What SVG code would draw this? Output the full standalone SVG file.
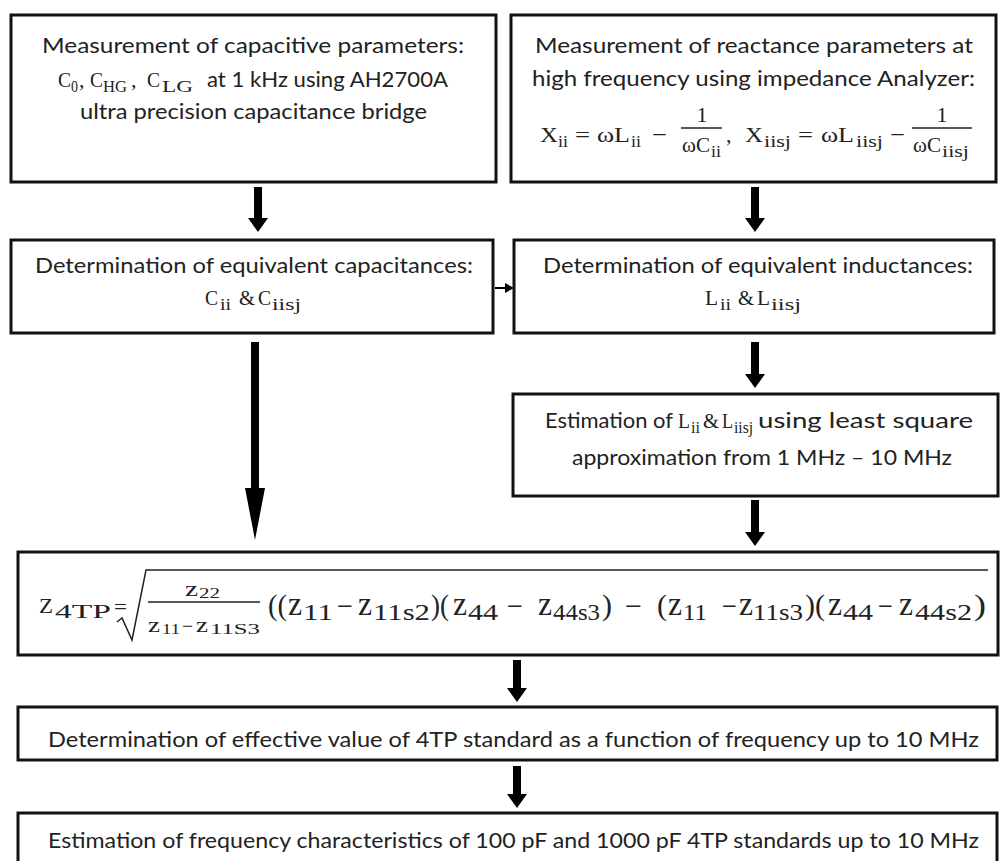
<svg xmlns="http://www.w3.org/2000/svg" width="1000" height="861" viewBox="0 0 1000 861">
<style>
.box{fill:#fff;stroke:#111;stroke-width:3}
.t{font-family:Lato,"Liberation Sans",sans-serif;font-size:22px;fill:#222}
.m{font-family:"Liberation Serif","DejaVu Serif",serif;font-size:22px;fill:#222}
.s{font-family:"Liberation Serif","DejaVu Serif",serif;font-size:16px;fill:#222}
.P{font-family:"Liberation Serif","DejaVu Serif",serif;font-size:30px;fill:#222}
.Z{font-family:"Liberation Serif","DejaVu Serif",serif;font-size:34px;fill:#222}
.S{font-family:"Liberation Serif","DejaVu Serif",serif;font-size:23px;fill:#222}
.c{text-anchor:middle}
.arrow{fill:#000}
.rule{stroke:#222;stroke-width:1.5;fill:none}
</style>
<rect width="1000" height="861" fill="#fff"/>

<g id="connectors">
<polygon class="arrow" points="254,187 262,187 262,218 268,218 258,232 248,218 254,218"/>
<polygon class="arrow" points="751,187 759,187 759,218 765,218 755,232 745,218 751,218"/>
<line x1="495" y1="288" x2="507" y2="288" stroke="#000" stroke-width="2"/>
<polygon class="arrow" points="505,283 514,288 505,293"/>
<polygon class="arrow" points="751,342 759,342 759,374 765,374 755,388 745,374 751,374"/>
<polygon class="arrow" points="251,342 259,342 259,488 265,488 255,540 245,488 251,488"/>
<polygon class="arrow" points="751,500 759,500 759,532 765,532 755,546 745,532 751,532"/>
<polygon class="arrow" points="513,660 521,660 521,688 527,688 517,702 507,688 513,688"/>
<polygon class="arrow" points="513,766 521,766 521,794 527,794 517,808 507,794 513,794"/>
</g>

<g id="node-cap-measure">
<rect class="box" x="11" y="15" width="485" height="167"/>
<text class="t" x="42" y="53" textLength="422" lengthAdjust="spacingAndGlyphs">Measurement of capacitive parameters:</text>
<text class="m" x="58" y="87" textLength="13" lengthAdjust="spacingAndGlyphs">C</text>
<text class="s" x="71" y="92" textLength="7" lengthAdjust="spacingAndGlyphs">0</text>
<text class="m" x="79" y="87">,</text>
<text class="m" x="90" y="87" textLength="13" lengthAdjust="spacingAndGlyphs">C</text>
<text class="s" x="103" y="92" textLength="24" lengthAdjust="spacingAndGlyphs">HG</text>
<text class="m" x="131" y="87">,</text>
<text class="m" x="147" y="87" textLength="13" lengthAdjust="spacingAndGlyphs">C</text>
<text class="s" x="162" y="92" textLength="31" lengthAdjust="spacingAndGlyphs">LG</text>
<text class="t" x="207" y="87" textLength="241" lengthAdjust="spacingAndGlyphs">at 1 kHz using AH2700A</text>
<text class="t" x="80" y="119" textLength="347" lengthAdjust="spacingAndGlyphs">ultra precision capacitance bridge</text>
</g>

<g id="node-reactance">
<rect class="box" x="511" y="15" width="485" height="167"/>
<text class="t" x="535" y="53" textLength="438" lengthAdjust="spacingAndGlyphs">Measurement of reactance parameters at</text>
<text class="t" x="532" y="86" textLength="443" lengthAdjust="spacingAndGlyphs">high frequency using impedance Analyzer:</text>
<text class="m" x="540" y="142" textLength="18" lengthAdjust="spacingAndGlyphs">X</text>
<text class="s" x="558" y="147" textLength="10" lengthAdjust="spacingAndGlyphs">ii</text>
<text class="m" x="575" y="142" textLength="15" lengthAdjust="spacingAndGlyphs">=</text>
<text class="m" x="597" y="142" textLength="33" lengthAdjust="spacingAndGlyphs">ωL</text>
<text class="s" x="631" y="147" textLength="10" lengthAdjust="spacingAndGlyphs">ii</text>
<text class="m" x="652" y="142" textLength="15" lengthAdjust="spacingAndGlyphs">−</text>
<text class="m c" x="702" y="122">1</text>
<line class="rule" x1="681" y1="128" x2="722" y2="128"/>
<text class="m" x="682" y="152" textLength="28" lengthAdjust="spacingAndGlyphs">ωC</text>
<text class="s" x="711" y="157" textLength="10" lengthAdjust="spacingAndGlyphs">ii</text>
<text class="m" x="726" y="142">,</text>
<text class="m" x="745" y="142" textLength="18" lengthAdjust="spacingAndGlyphs">X</text>
<text class="s" x="764" y="147" textLength="27" lengthAdjust="spacingAndGlyphs">iisj</text>
<text class="m" x="798" y="142" textLength="15" lengthAdjust="spacingAndGlyphs">=</text>
<text class="m" x="821" y="142" textLength="33" lengthAdjust="spacingAndGlyphs">ωL</text>
<text class="s" x="856" y="147" textLength="27" lengthAdjust="spacingAndGlyphs">iisj</text>
<text class="m" x="890" y="142" textLength="15" lengthAdjust="spacingAndGlyphs">−</text>
<text class="m c" x="942" y="122">1</text>
<line class="rule" x1="912" y1="128" x2="972" y2="128"/>
<text class="m" x="913" y="152" textLength="28" lengthAdjust="spacingAndGlyphs">ωC</text>
<text class="s" x="942" y="157" textLength="27" lengthAdjust="spacingAndGlyphs">iisj</text>
</g>

<g id="node-eq-cap">
<rect class="box" x="11" y="240" width="482" height="93"/>
<text class="t" x="35" y="273" textLength="438" lengthAdjust="spacingAndGlyphs">Determination of equivalent capacitances:</text>
<text class="m" x="205" y="305" textLength="13" lengthAdjust="spacingAndGlyphs">C</text>
<text class="s" x="220" y="310" textLength="11" lengthAdjust="spacingAndGlyphs">ii</text>
<text class="m" x="239" y="305" textLength="16" lengthAdjust="spacingAndGlyphs">&amp;</text>
<text class="m" x="258" y="305" textLength="13" lengthAdjust="spacingAndGlyphs">C</text>
<text class="s" x="272" y="310" textLength="29" lengthAdjust="spacingAndGlyphs">iisj</text>
</g>

<g id="node-eq-ind">
<rect class="box" x="514" y="240" width="480" height="93"/>
<text class="t" x="543" y="273" textLength="430" lengthAdjust="spacingAndGlyphs">Determination of equivalent inductances:</text>
<text class="m" x="705" y="305" textLength="13" lengthAdjust="spacingAndGlyphs">L</text>
<text class="s" x="720" y="310" textLength="11" lengthAdjust="spacingAndGlyphs">ii</text>
<text class="m" x="738" y="305" textLength="16" lengthAdjust="spacingAndGlyphs">&amp;</text>
<text class="m" x="757" y="305" textLength="13" lengthAdjust="spacingAndGlyphs">L</text>
<text class="s" x="771" y="310" textLength="30" lengthAdjust="spacingAndGlyphs">iisj</text>
</g>

<g id="node-estimation">
<rect class="box" x="513" y="394" width="485" height="102"/>
<text class="t" x="545" y="428" textLength="128" lengthAdjust="spacingAndGlyphs">Estimation of</text>
<text class="m" x="678" y="428" textLength="12" lengthAdjust="spacingAndGlyphs">L</text>
<text class="s" x="691" y="433" textLength="9" lengthAdjust="spacingAndGlyphs">ii</text>
<text class="m" x="703" y="428" textLength="16" lengthAdjust="spacingAndGlyphs">&amp;</text>
<text class="m" x="722" y="428" textLength="11" lengthAdjust="spacingAndGlyphs">L</text>
<text class="s" x="734" y="433" textLength="19" lengthAdjust="spacingAndGlyphs">iisj</text>
<text class="t" x="758" y="428" textLength="215" lengthAdjust="spacingAndGlyphs">using least square</text>
<text class="t" x="572" y="465" textLength="380" lengthAdjust="spacingAndGlyphs">approximation from 1 MHz – 10 MHz</text>
</g>

<g id="node-formula">
<rect class="box" x="18" y="552" width="980" height="103"/>
<text class="m" x="39" y="613" textLength="14" lengthAdjust="spacingAndGlyphs">Z</text>
<text class="s" x="55" y="618" textLength="56" lengthAdjust="spacingAndGlyphs" style="font-size:18px">4TP</text>
<text class="m" x="114" y="614" textLength="13" lengthAdjust="spacingAndGlyphs" style="font-size:22px">=</text>
<path class="rule" d="M117,622 L122,618 L132,640 L146,570 L988,570"/>
<text class="m" x="185" y="596" textLength="13" lengthAdjust="spacingAndGlyphs">z</text>
<text class="s" x="199" y="598" textLength="21" lengthAdjust="spacingAndGlyphs" style="font-size:15px">22</text>
<line class="rule" x1="148" y1="602" x2="260" y2="602"/>
<text class="m" x="148" y="632" textLength="12" lengthAdjust="spacingAndGlyphs">z</text>
<text class="s" x="162" y="634" textLength="18" lengthAdjust="spacingAndGlyphs" style="font-size:15px">11</text>
<text class="m" x="182" y="632" textLength="11" lengthAdjust="spacingAndGlyphs" style="font-size:18px">−</text>
<text class="m" x="196" y="632" textLength="12" lengthAdjust="spacingAndGlyphs">z</text>
<text class="s" x="210" y="634" textLength="50" lengthAdjust="spacingAndGlyphs" style="font-size:15px">11S3</text>

<text class="P" x="268" y="615" textLength="19" lengthAdjust="spacingAndGlyphs">((</text>
<text class="Z" x="288" y="615" textLength="14" lengthAdjust="spacingAndGlyphs">z</text>
<text class="S" x="303" y="620" textLength="30" lengthAdjust="spacingAndGlyphs">11</text>
<text class="P" x="337" y="616" textLength="16" lengthAdjust="spacingAndGlyphs">−</text>
<text class="Z" x="358" y="615" textLength="14" lengthAdjust="spacingAndGlyphs">z</text>
<text class="S" x="373" y="620" textLength="57" lengthAdjust="spacingAndGlyphs">11s2</text>
<text class="P" x="431" y="615" textLength="18" lengthAdjust="spacingAndGlyphs">)(</text>
<text class="Z" x="453" y="615" textLength="14" lengthAdjust="spacingAndGlyphs">z</text>
<text class="S" x="468" y="620" textLength="30" lengthAdjust="spacingAndGlyphs">44</text>
<text class="P" x="507" y="616" textLength="16" lengthAdjust="spacingAndGlyphs">−</text>
<text class="Z" x="538" y="615" textLength="14" lengthAdjust="spacingAndGlyphs">z</text>
<text class="S" x="553" y="620" textLength="47" lengthAdjust="spacingAndGlyphs">44s3</text>
<text class="P" x="602" y="615" textLength="10" lengthAdjust="spacingAndGlyphs">)</text>
<text class="P" x="625" y="616" textLength="17" lengthAdjust="spacingAndGlyphs">−</text>
<text class="P" x="657" y="615" textLength="10" lengthAdjust="spacingAndGlyphs">(</text>
<text class="Z" x="668" y="615" textLength="14" lengthAdjust="spacingAndGlyphs">z</text>
<text class="S" x="683" y="620" textLength="24" lengthAdjust="spacingAndGlyphs">11</text>
<text class="P" x="722" y="616" textLength="15" lengthAdjust="spacingAndGlyphs">−</text>
<text class="Z" x="739" y="615" textLength="14" lengthAdjust="spacingAndGlyphs">z</text>
<text class="S" x="753" y="620" textLength="50" lengthAdjust="spacingAndGlyphs">11s3</text>
<text class="P" x="805" y="615" textLength="20" lengthAdjust="spacingAndGlyphs">)(</text>
<text class="Z" x="828" y="615" textLength="14" lengthAdjust="spacingAndGlyphs">z</text>
<text class="S" x="843" y="620" textLength="30" lengthAdjust="spacingAndGlyphs">44</text>
<text class="P" x="878" y="616" textLength="15" lengthAdjust="spacingAndGlyphs">−</text>
<text class="Z" x="899" y="615" textLength="14" lengthAdjust="spacingAndGlyphs">z</text>
<text class="S" x="915" y="620" textLength="57" lengthAdjust="spacingAndGlyphs">44s2</text>
<text class="P" x="974" y="615" textLength="12" lengthAdjust="spacingAndGlyphs">)</text>
</g>

<g id="node-effective">
<rect class="box" x="18" y="707" width="979" height="53"/>
<text class="t" x="48" y="747" textLength="931" lengthAdjust="spacingAndGlyphs">Determination of effective value of 4TP standard as a function of frequency up to 10 MHz</text>
</g>

<g id="node-final">
<rect class="box" x="18" y="813" width="979" height="60"/>
<text class="t" x="48" y="848" textLength="931" lengthAdjust="spacingAndGlyphs">Estimation of frequency characteristics of 100 pF and 1000 pF 4TP standards up to 10 MHz</text>
</g>
</svg>
